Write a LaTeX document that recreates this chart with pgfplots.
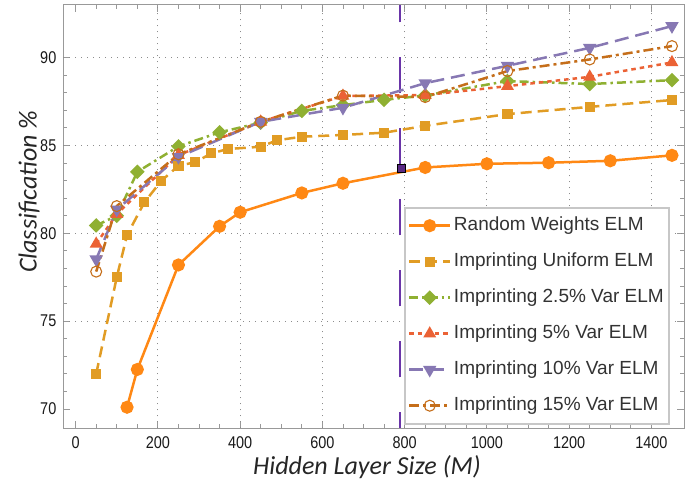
\documentclass[border=0pt]{standalone}
\usepackage{fontspec}
\setmainfont{Liberation Sans}
\newfontfamily\tickfont[FakeStretch=0.85]{Liberation Sans}
\newfontfamily\labfont{Carlito}
\usepackage{pgfplots}
\pgfplotsset{compat=1.18}
\definecolor{cRand}{RGB}{255,136,20}
\definecolor{cUni}{HTML}{E19C24}
\definecolor{cG}{HTML}{8FB032}
\definecolor{cR}{HTML}{EB6235}
\definecolor{cP}{HTML}{8778B3}
\definecolor{cB}{HTML}{C56E1A}
\definecolor{cLine}{HTML}{6A35A8}
\definecolor{cSq}{HTML}{5A2A85}
\begin{document}
\begin{tikzpicture}
\begin{axis}[
 name=ax, scale only axis, width=621bp, height=423.3bp,
 xmin=-30, xmax=1480, ymin=68.9, ymax=93,
 xtick={0,200,...,1400}, ytick={70,75,80,85,90},
 minor x tick num=3, minor y tick num=4,
 tick align=inside,
 major tick length=7bp, minor tick length=4bp,
 axis line style={black!40, line width=1bp},
 every tick/.style={black!40, line width=0.9bp},
 extra x ticks={200,400,...,1400}, extra y ticks={75,80,85,90},
 extra x tick labels={}, extra y tick labels={},
 extra tick style={grid=major, major tick length=0pt},
 major grid style={black!45, line width=1.1bp, dash pattern=on 1.1bp off 4.9bp},
 /pgf/number format/assume math mode=true,
 /pgf/number format/1000 sep={},
 ticklabel style={font=\tickfont\fontsize{17bp}{17bp}\selectfont, text=black!90},
 xticklabel style={anchor=north, inner sep=0pt, yshift=-8.4bp},
 yticklabel style={anchor=east, inner sep=0pt, xshift=-6.8bp},
 xlabel={Hidden Layer Size (M)},
 xlabel style={at={(axis description cs:0.489,-0.1103)}, anchor=base, font=\labfont\itshape\fontsize{26bp}{26bp}\selectfont, text=black!85},
 ylabel={Classification \%},
 ylabel style={at={(axis description cs:-0.0428,0.559)}, anchor=base, font=\labfont\itshape\fontsize{26bp}{26bp}\selectfont, text=black!85},
 legend style={at={(0.5486,0.5235)}, anchor=north west, draw=black!22, line width=2bp, fill=white,
   font=\fontsize{19bp}{19bp}\selectfont, text=black!80, inner xsep=3bp, inner ysep=9bp, row sep=18bp,
   nodes={text height=14bp, text depth=4bp, inner ysep=0pt, inner xsep=2.5bp}},
 legend cell align=left,
 legend image code/.code={\draw[mark repeat=2,mark phase=2,#1] plot coordinates {(0bp,0bp) (20.5bp,0bp) (41bp,0bp)};},
]
\addplot[forget plot, cLine, line width=1.5bp, dash pattern=on 36bp off 35bp, dash phase=20bp] coordinates {(789,68.9) (789,93)};

\addplot[color=cRand, line width=2.5bp, mark=*, mark size=5.3bp, mark options={solid}] coordinates {
(125,70.1) (150,72.25) (250,78.2) (350,80.4) (400,81.2) (550,82.3) (650,82.85) (850,83.75) (1000,83.96) (1150,84.02) (1300,84.13) (1450,84.44)};
\addlegendentry{Random Weights ELM}

\addplot[color=cUni, line width=2.5bp, dash pattern=on 11bp off 6bp, mark=square*, mark size=3.8bp, mark options={solid}] coordinates {
(50,72.0) (100,77.5) (125,79.9) (167,81.76) (208,82.98) (250,83.85) (290,84.04) (330,84.55) (370,84.8) (450,84.93) (490,85.3) (550,85.5) (650,85.6) (750,85.73) (850,86.12) (1050,86.79) (1250,87.2) (1450,87.59)};
\addlegendentry{Imprinting Uniform ELM}

\addplot[color=cG, line width=2.5bp, dash pattern=on 9bp off 4bp on 2.5bp off 4bp, mark=square*, mark size=3.9bp, mark options={solid, rotate=45}] coordinates {
(50,80.45) (100,81.0) (150,83.5) (250,84.95) (350,85.75) (450,86.3) (550,86.97) (650,87.3) (750,87.6) (850,87.85) (1050,88.67) (1250,88.5) (1450,88.72)};
\addlegendentry{Imprinting 2.5\% Var ELM}

\addplot[color=cR, line width=2.5bp, dash pattern=on 4.5bp off 4bp, mark=triangle*, mark size=5bp, mark options={solid}] coordinates {
(50,79.4) (100,81.1) (250,84.45) (450,86.35) (650,87.82) (850,87.87) (1050,88.38) (1250,88.91) (1450,89.73)};
\addlegendentry{Imprinting 5\% Var ELM}

\addplot[color=cP, line width=2.5bp, dash pattern=on 14bp off 7bp, mark=triangle*, mark size=5.3bp, mark options={solid, rotate=180}] coordinates {
(50,78.52) (100,81.35) (250,84.35) (450,86.35) (650,87.15) (850,88.55) (1050,89.54) (1250,90.56) (1450,91.8)};
\addlegendentry{Imprinting 10\% Var ELM}

\addplot[color=cB, line width=2.5bp, dash pattern=on 10bp off 4bp on 3bp off 4bp, mark=o, mark size=5.5bp, mark options={solid, line width=1.1bp}] coordinates {
(50,77.82) (100,81.55) (250,84.5) (450,86.35) (650,87.84) (850,87.76) (1050,89.24) (1250,89.9) (1450,90.66)};
\addlegendentry{Imprinting 15\% Var ELM}

\addplot[forget plot, only marks, mark=square*, mark size=3.9bp, mark options={fill=cSq, draw=black, line width=1bp}] coordinates {(792,83.7)};
\end{axis}
\pgfresetboundingbox
\path[use as bounding box] ([shift={(-63.3bp,-58.7bp)}]ax.south west) rectangle ([shift={(14.7bp,5bp)}]ax.north east);
\end{tikzpicture}
\end{document}
